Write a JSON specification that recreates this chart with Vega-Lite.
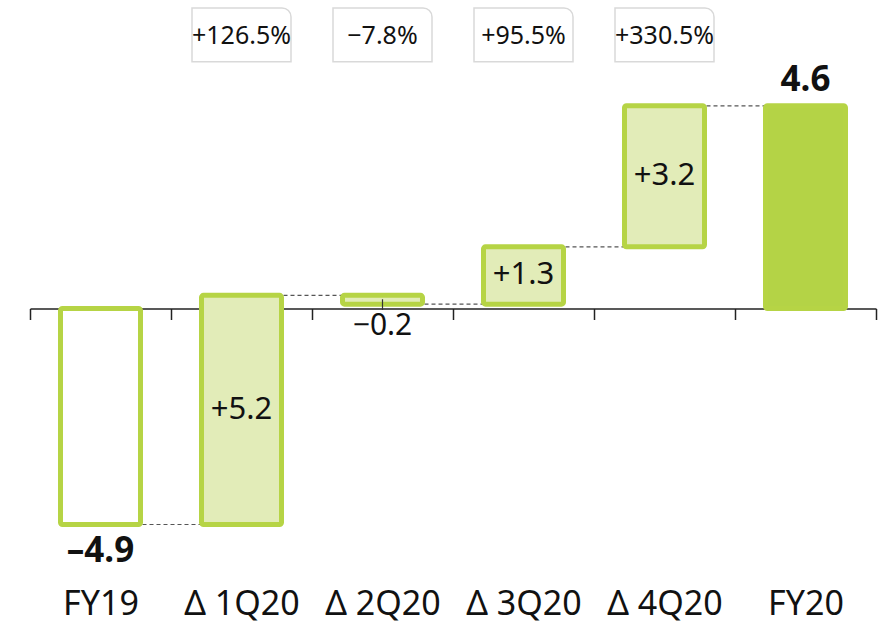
{
  "$schema": "https://vega.github.io/schema/vega-lite/v6.json",
  "width": 846,
  "height": 625,
  "autosize": {"type": "none"},
  "padding": {"left": 30, "right": 11, "top": 0, "bottom": 0},
  "background": "white",
  "config": {
    "view": {"stroke": null},
    "font": "Noto Sans",
    "text": {"font": "Noto Sans", "color": "#111111"}
  },
  "datasets": {
    "bars": [
      {"cat": "FY19", "start": 0, "end": -4.9, "kind": "FY19", "label": "–4.9"},
      {"cat": "Δ 1Q20", "start": -4.9, "end": 0.3, "kind": "delta", "label": "+5.2", "pct": "+126.5%"},
      {"cat": "Δ 2Q20", "start": 0.3, "end": 0.1, "kind": "delta", "label": "−0.2", "pct": "−7.8%"},
      {"cat": "Δ 3Q20", "start": 0.1, "end": 1.4, "kind": "delta", "label": "+1.3", "pct": "+95.5%"},
      {"cat": "Δ 4Q20", "start": 1.4, "end": 4.6, "kind": "delta", "label": "+3.2", "pct": "+330.5%"},
      {"cat": "FY20", "start": 0, "end": 4.6, "kind": "FY20", "label": "4.6"}
    ],
    "links": [
      {"from": "FY19", "to": "Δ 1Q20", "level": -4.9},
      {"from": "Δ 1Q20", "to": "Δ 2Q20", "level": 0.3},
      {"from": "Δ 2Q20", "to": "Δ 3Q20", "level": 0.1},
      {"from": "Δ 3Q20", "to": "Δ 4Q20", "level": 1.4},
      {"from": "Δ 4Q20", "to": "FY20", "level": 4.6}
    ]
  },
  "encoding": {
    "x": {
      "field": "cat",
      "type": "nominal",
      "sort": ["FY19", "Δ 1Q20", "Δ 2Q20", "Δ 3Q20", "Δ 4Q20", "FY20"],
      "scale": {"domain": ["FY19", "Δ 1Q20", "Δ 2Q20", "Δ 3Q20", "Δ 4Q20", "FY20"], "paddingInner": 0, "paddingOuter": 0},
      "axis": {
        "title": null,
        "orient": "bottom",
        "offset": -316.5,
        "zindex": 0,
        "domainColor": "#222222",
        "domainWidth": 1.5,
        "tickColor": "#222222",
        "tickWidth": 1.5,
        "tickSize": 11,
        "tickBand": "extent",
        "labelAngle": 0,
        "labelFont": "Noto Sans",
        "labelFontSize": 34,
        "labelColor": "#111111",
        "labelBaseline": "alphabetic",
        "labelPadding": 294.5
      }
    }
  },
  "layer": [
    {
      "data": {"name": "links"},
      "mark": {"type": "rule", "color": "#555555", "strokeWidth": 1.2, "strokeDash": [4, 3]},
      "encoding": {
        "x": {"field": "from", "type": "nominal", "sort": ["FY19", "Δ 1Q20", "Δ 2Q20", "Δ 3Q20", "Δ 4Q20", "FY20"]},
        "x2": {"field": "to"},
        "y": {"field": "level", "type": "quantitative", "scale": {"domain": [-7.18, 7.0], "nice": false, "zero": false}, "axis": null}
      }
    },
    {
      "data": {"name": "bars"},
      "mark": {"type": "bar", "width": 80, "stroke": "#b6d445", "strokeWidth": 5, "cornerRadius": 2},
      "encoding": {
        "y": {"field": "start", "type": "quantitative", "scale": {"domain": [-7.18, 7.0], "nice": false, "zero": false}, "axis": null},
        "y2": {"field": "end"},
        "fill": {
          "field": "kind",
          "type": "nominal",
          "scale": {"domain": ["FY19", "delta", "FY20"], "range": ["#ffffff", "#e2ecb8", "#b4d346"]},
          "legend": null
        }
      }
    },
    {
      "data": {"name": "bars"},
      "transform": [{"filter": "datum.cat === 'Δ 2Q20'"}],
      "mark": {"type": "rule", "color": "#333333", "strokeWidth": 1.2},
      "encoding": {
        "y": {"datum": 0.21, "type": "quantitative"},
        "y2": {"datum": -0.03}
      }
    },
    {
      "data": {"name": "bars"},
      "transform": [
        {"filter": "datum.kind === 'delta' && datum.cat !== 'Δ 2Q20'"},
        {"fold": ["start", "end"], "as": ["edge", "val"]}
      ],
      "mark": {"type": "text", "fontSize": 31, "baseline": "middle", "align": "center"},
      "encoding": {
        "y": {"aggregate": "mean", "field": "val", "type": "quantitative"},
        "text": {"field": "label", "type": "nominal"}
      }
    },
    {
      "data": {"name": "bars"},
      "transform": [{"filter": "datum.cat === 'Δ 2Q20'"}],
      "mark": {"type": "text", "fontSize": 30, "baseline": "middle", "align": "center", "dy": 22},
      "encoding": {
        "y": {"field": "end", "type": "quantitative"},
        "text": {"field": "label", "type": "nominal"}
      }
    },
    {
      "data": {"name": "bars"},
      "transform": [{"filter": "datum.cat === 'FY19'"}],
      "mark": {"type": "text", "fontSize": 35, "fontWeight": "bold", "baseline": "middle", "align": "center", "dy": 26},
      "encoding": {
        "y": {"field": "end", "type": "quantitative"},
        "text": {"field": "label", "type": "nominal"}
      }
    },
    {
      "data": {"name": "bars"},
      "transform": [{"filter": "datum.cat === 'FY20'"}],
      "mark": {"type": "text", "fontSize": 35, "fontWeight": "bold", "baseline": "middle", "align": "center", "dy": -26},
      "encoding": {
        "y": {"field": "end", "type": "quantitative"},
        "text": {"field": "label", "type": "nominal"}
      }
    },
    {
      "data": {"name": "bars"},
      "transform": [{"filter": "datum.pct != null"}],
      "mark": {"type": "bar", "width": 99, "fill": "#ffffff", "stroke": "#d9d9d9", "strokeWidth": 1.5, "cornerRadiusTopRight": 9},
      "encoding": {
        "y": {"datum": 6.82, "type": "quantitative"},
        "y2": {"datum": 5.6}
      }
    },
    {
      "data": {"name": "bars"},
      "transform": [{"filter": "datum.pct != null"}],
      "mark": {"type": "text", "fontSize": 25, "baseline": "middle", "align": "center", "color": "#111111"},
      "encoding": {
        "y": {"datum": 6.19, "type": "quantitative"},
        "text": {"field": "pct", "type": "nominal"}
      }
    }
  ]
}
